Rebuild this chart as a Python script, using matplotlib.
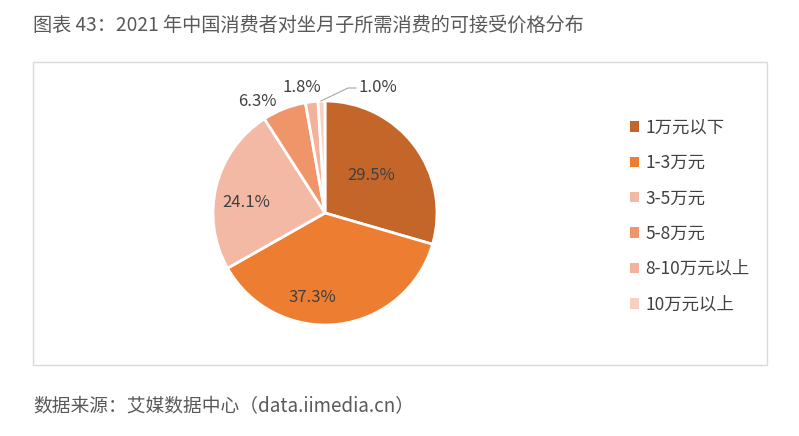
import matplotlib
matplotlib.use("Agg")
import matplotlib.pyplot as plt
from matplotlib.patches import Patch, Rectangle

plt.rcParams['font.family'] = ['Noto Sans CJK SC', 'DejaVu Sans']

categories = ['1万元以下', '1-3万元', '3-5万元', '5-8万元', '8-10万元以上', '10万元以上']
values = [29.5, 37.3, 24.1, 6.3, 1.8, 1.0]
colors = ['#C4662A', '#ED7D31', '#F4B9A4', '#F0956A', '#F4B29C', '#F8D0C2']
title = '图表 43：2021 年中国消费者对坐月子所需消费的可接受价格分布'
source = '数据来源：艾媒数据中心（data.iimedia.cn）'

W, H = 799, 436
fig = plt.figure(figsize=(W/100, H/100), dpi=100)
fig.patch.set_facecolor('white')

# frame
fig.add_artist(Rectangle((33/W, 1-365/H), (767-33)/W, (365-62)/H, transform=fig.transFigure,
                         fill=False, edgecolor='#D9D9D9', linewidth=1))

cx, cy, R = 325, 213, 112
half = 150
ax = fig.add_axes([(cx-half)/W, (H-cy-half)/H, 2*half/W, 2*half/H])

wedges, _ = ax.pie(values, colors=colors, startangle=90, counterclock=False,
                   radius=1.0, wedgeprops=dict(edgecolor='white', linewidth=2))
ax.set_xlim(-half/R, half/R)
ax.set_ylim(-half/R, half/R)
ax.axis('off')

# label positions as pixel offsets from centre (x right, y down)
label_px = [(46, -38), (-13, 85), (-79, -11), (-68, -112), (-23, -126), (53, -126)]
for v, (dx, dy) in zip(values, label_px):
    ax.text(dx/R, -dy/R, f'{v:.1f}%', ha='center', va='center', fontsize=12, color='#404040')

# leader line for smallest slice
ax.plot([(321-cx)/R, (348-cx)/R, (356-cx)/R], [-(101-cy)/R, -(88-cy)/R, -(88-cy)/R],
        color='#A6A6A6', linewidth=0.8)

handles = [Patch(facecolor=c, edgecolor='none') for c in colors]
fig.legend(handles, categories, loc='upper left', bbox_to_anchor=(614/W, 1-103/H),
           frameon=False, fontsize=12.5, handlelength=0.55, handleheight=0.55,
           labelspacing=1.0, handletextpad=0.35, labelcolor='#404040')

fig.text(33/W, 1-25/H, title, fontsize=13.8, color='#595959', ha='left', va='center')
fig.text(33/W, 1-407/H, source, fontsize=13.5, color='#595959', ha='left', va='center')

fig.savefig('out.png', dpi=100, facecolor='white')
